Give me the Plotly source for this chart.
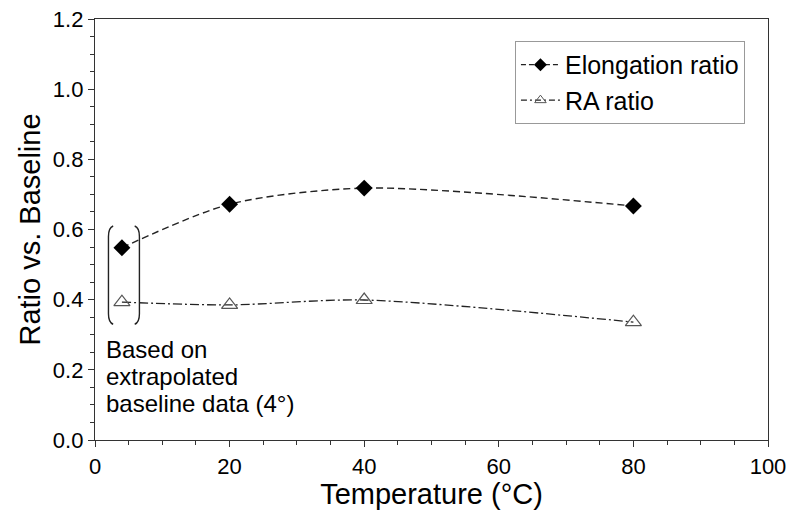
import plotly.graph_objects as go

temps = [4, 20, 40, 80]
elong = [0.548, 0.672, 0.718, 0.667]
ra = [0.393, 0.385, 0.399, 0.336]
note_lines = ["Based on", "extrapolated", "baseline data (4°)"]

elong_line = dict(color="#222", width=1.4, dash="7px,4px", shape="spline", smoothing=0.8)
ra_line = dict(color="#222", width=1.3, dash="9px,3px,2px,3px", shape="spline", smoothing=0.8)

fig = go.Figure()
fig.add_trace(go.Scatter(x=temps, y=elong, mode="lines+markers", name="Elongation ratio", showlegend=False,
                         line=elong_line, marker=dict(symbol="diamond", size=13, color="black")))
fig.add_trace(go.Scatter(x=temps, y=ra, mode="lines+markers", name="RA ratio", showlegend=False,
                         line=ra_line,
                         marker=dict(symbol="triangle-up-open", size=14, color="#555", line=dict(width=1.2))))
# legend entries with smaller symbols, as in the reference
fig.add_trace(go.Scatter(x=[None], y=[None], mode="lines+markers", name="Elongation ratio",
                         line=dict(color="#222", width=1.4, dash="5px,3px"),
                         marker=dict(symbol="diamond", size=10, color="black")))
fig.add_trace(go.Scatter(x=[None], y=[None], mode="lines+markers", name="RA ratio",
                         line=dict(color="#222", width=1.3, dash="6px,3px,2px,3px"),
                         marker=dict(symbol="triangle-up-open", size=10, color="#555", line=dict(width=1))))

# bracket around the extrapolated point
bx0, bx1 = temps[0] - 2.0, temps[0] + 2.6
by0, by1 = 0.33, 0.61
fig.add_shape(type="path", xref="x", yref="y",
              path=f"M {bx0+0.7},{by1} Q {bx0},{by1-0.005} {bx0},{by1-0.03} L {bx0},{by0+0.03} Q {bx0},{by0+0.005} {bx0+0.7},{by0}",
              line=dict(color="#222", width=1.4))
fig.add_shape(type="path", xref="x", yref="y",
              path=f"M {bx1-0.7},{by1} Q {bx1},{by1-0.005} {bx1},{by1-0.03} L {bx1},{by0+0.03} Q {bx1},{by0+0.005} {bx1-0.7},{by0}",
              line=dict(color="#222", width=1.4))

for i, t in enumerate(note_lines):
    fig.add_annotation(x=1.3, y=0.303, xref="x", yref="y", xanchor="left", yanchor="top",
                       yshift=-27 * i, text=t, showarrow=False, align="left",
                       font=dict(size=24, color="black"))

axis_common = dict(showline=True, linecolor="#333", linewidth=1.4, mirror=True, showgrid=False,
                   zeroline=False, ticks="outside", ticklen=6, tickcolor="#333", automargin=False,
                   tickfont=dict(size=22, color="black"),
                   minor=dict(ticks="outside", ticklen=4, tickcolor="#333"))

fig.update_xaxes(range=[0, 100], dtick=20, tick0=0, minor_dtick=5,
                 title=dict(text="Temperature (°C)", font=dict(size=29, color="black"), standoff=2),
                 **axis_common)
fig.update_yaxes(range=[0, 1.2], dtick=0.2, tick0=0, minor_dtick=0.05, tickformat=".1f",
                 title=dict(text="Ratio vs. Baseline", font=dict(size=29, color="black"), standoff=3),
                 **axis_common)

fig.update_layout(width=792, height=510, margin=dict(l=95, r=24, t=19, b=70),
                  plot_bgcolor="white", paper_bgcolor="white",
                  font=dict(family="Liberation Sans, Arial, sans-serif", color="black"),
                  legend=dict(x=0.624, y=0.948, xanchor="left", yanchor="top",
                              bgcolor="white", bordercolor="#999", borderwidth=1,
                              font=dict(size=25), itemwidth=39, tracegroupgap=0))

fig.write_html("out.html")
